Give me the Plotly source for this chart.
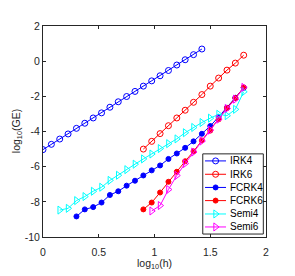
import plotly.graph_objects as go

# ---- data ----
x_irk4 = [0.000, 0.075, 0.150, 0.225, 0.300, 0.375, 0.450, 0.525, 0.600, 0.675,
          0.750, 0.825, 0.900, 0.975, 1.050, 1.125, 1.200, 1.275, 1.350, 1.425]
y_irk4 = [-5.03, -4.73, -4.43, -4.14, -3.82, -3.53, -3.23, -2.94, -2.62, -2.31,
          -2.01, -1.72, -1.42, -1.12, -0.83, -0.53, -0.22, 0.08, 0.37, 0.69]

x_irk6 = [0.900, 0.975, 1.050, 1.125, 1.200, 1.275, 1.350, 1.425, 1.500, 1.575,
          1.650, 1.725, 1.800]
y_irk6 = [-5.00, -4.56, -4.12, -3.67, -3.23, -2.79, -2.34, -1.90, -1.42, -0.96,
          -0.51, -0.11, 0.34]

x_fcrk4 = [0.300, 0.375, 0.450, 0.525, 0.600, 0.675, 0.750, 0.825, 0.900, 0.975,
           1.050, 1.125, 1.200, 1.275, 1.350, 1.425, 1.500, 1.575, 1.650, 1.725, 1.800]
y_fcrk4 = [-8.83, -8.43, -8.30, -8.04, -7.61, -7.40, -7.08, -6.80, -6.50, -6.21,
           -5.93, -5.56, -5.25, -4.93, -4.56, -4.13, -3.69, -3.17, -2.65, -2.08, -1.51]

x_fcrk6 = [0.900, 0.975, 1.050, 1.125, 1.200, 1.275, 1.350, 1.425, 1.500, 1.575,
           1.650, 1.725, 1.800]
y_fcrk6 = [-8.43, -8.04, -7.47, -6.86, -6.29, -5.69, -5.13, -4.51, -3.95, -3.31,
           -2.66, -2.10, -1.49]

x_semi4 = [0.150, 0.225, 0.300, 0.375, 0.450, 0.525, 0.600, 0.675, 0.750, 0.825,
           0.900, 0.975, 1.050, 1.125, 1.200, 1.275, 1.350, 1.425, 1.500, 1.575,
           1.650, 1.725, 1.800]
y_semi4 = [-8.47, -8.37, -7.93, -7.70, -7.40, -7.17, -6.78, -6.49, -6.17, -5.86,
           -5.56, -5.28, -4.97, -4.69, -4.42, -4.07, -3.77, -3.49, -3.24, -3.02,
           -3.10, -2.74, -1.74]

x_semi6 = [0.975, 1.050, 1.125, 1.200, 1.275, 1.350, 1.425, 1.500, 1.575, 1.650,
           1.725, 1.800]
y_semi6 = [-8.52, -8.21, -7.30, -6.50, -5.82, -5.17, -4.54, -3.92, -3.30, -2.69,
           -2.16, -1.49]

series_names = ["IRK4", "IRK6", "FCRK4", "FCRK6", "Semi4", "Semi6"]
x_ticks = [0, 0.5, 1, 1.5, 2]
x_ticktext = ["0", "0.5", "1", "1.5", "2"]
y_ticks = [-10, -8, -6, -4, -2, 0, 2]
y_ticktext = ["-10", "-8", "-6", "-4", "-2", "0", "2"]

# ---- styles ----
BLUE, RED, CYAN, MAG = "#0000ff", "#ff0000", "#00ffff", "#ff00ff"
AX = "#262626"
styles = [
    (BLUE, "circle-open", 6),
    (RED, "circle-open", 6),
    (BLUE, "circle", 5),
    (RED, "circle", 5),
    (CYAN, "triangle-right-open", 7),
    (MAG, "triangle-right-open", 7),
]
data = [(x_irk4, y_irk4), (x_irk6, y_irk6), (x_fcrk4, y_fcrk4),
        (x_fcrk6, y_fcrk6), (x_semi4, y_semi4), (x_semi6, y_semi6)]

fig = go.Figure()
for (xs, ys), name, (col, sym, sz) in zip(data, series_names, styles):
    fig.add_trace(go.Scatter(
        x=xs, y=ys, name=name, mode="lines+markers",
        line=dict(color=col, width=1),
        marker=dict(symbol=sym, size=sz, color=col, line=dict(color=col, width=1)),
        showlegend=False, hoverinfo="skip"))

# ---- custom legend (compact, MATLAB-like) ----
leg_x0, leg_x1, leg_y0, leg_y1 = 0.7165, 0.988, 0.014, 0.394
entry_y = [0.3606, 0.2973, 0.2349, 0.1725, 0.1091, 0.0476]
samp_x0, samp_x1, samp_xm, text_x = 0.7266, 0.8207, 0.774, 0.831
fig.add_shape(type="rect", xref="paper", yref="paper",
              x0=leg_x0, x1=leg_x1, y0=leg_y0, y1=leg_y1,
              line=dict(color=AX, width=1), fillcolor="rgba(0,0,0,0)", layer="below")
for name, (col, sym, sz), ey in zip(series_names, styles, entry_y):
    fig.add_trace(go.Scatter(
        x=[samp_x0, samp_x1], y=[ey, ey], xaxis="x2", yaxis="y2",
        mode="lines", line=dict(color=col, width=1),
        showlegend=False, hoverinfo="skip"))
    fig.add_trace(go.Scatter(
        x=[samp_xm], y=[ey], xaxis="x2", yaxis="y2",
        mode="markers",
        marker=dict(symbol=sym, size=sz, color=col, line=dict(color=col, width=1)),
        showlegend=False, hoverinfo="skip"))
    fig.add_annotation(x=text_x, y=ey, xref="paper", yref="paper", text=name,
                       showarrow=False, xanchor="left", yanchor="middle",
                       font=dict(size=10, color="#000000"))

# ---- axis titles ----
fig.add_annotation(x=0.5, y=-0.13, xref="paper", yref="paper",
                   text="log<sub>10</sub>(h)", showarrow=False,
                   xanchor="center", yanchor="middle", font=dict(size=10.5, color=AX))
fig.add_annotation(x=-0.118, y=0.5, xref="paper", yref="paper",
                   text="log<sub>10</sub>(GE)", showarrow=False, textangle=-90,
                   xanchor="center", yanchor="middle", font=dict(size=10.5, color=AX))

axis_common = dict(showgrid=False, zeroline=False, showline=True, linecolor=AX,
                   linewidth=1, ticks="inside", ticklen=3, tickcolor=AX,
                   mirror="ticks", tickfont=dict(size=10.5, color=AX))
# the page body has an 8px default margin, so the figure is offset by 8px
fig.update_layout(
    width=287, height=268,
    margin=dict(l=35, r=28.7, t=13, b=38.7),
    plot_bgcolor="white", paper_bgcolor="white",
    font=dict(family="Liberation Sans, Arial, sans-serif", size=10.5, color=AX),
    showlegend=False,
    xaxis=dict(range=[0, 2], tickvals=x_ticks, ticktext=x_ticktext,
               ticklabelstandoff=5, **axis_common),
    yaxis=dict(range=[-10, 2], tickvals=y_ticks, ticktext=y_ticktext, **axis_common),
    xaxis2=dict(overlaying="x", range=[0, 1], visible=False, anchor="y2"),
    yaxis2=dict(overlaying="y", range=[0, 1], visible=False, anchor="x2"),
)

fig.write_html("out.html")
